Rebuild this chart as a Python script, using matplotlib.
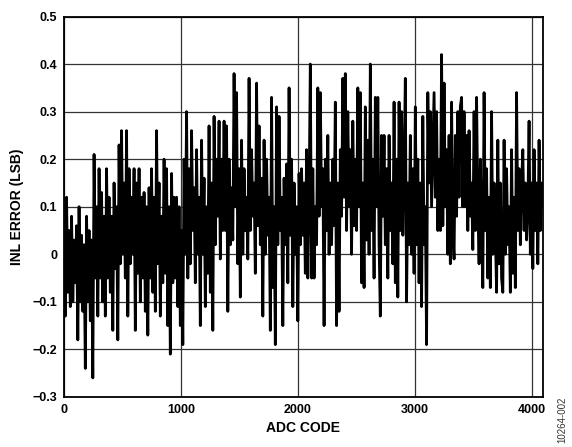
import numpy as np
from matplotlib import pyplot as plt

# INL error (LSB) in six chunks of ~700 codes each
seg1 = [0.00, -0.13, 0.12, -0.08, 0.05, -0.11, 0.08, -0.10, 0.03, -0.06, 0.06, -0.18, 0.10, -0.10, 0.04, -0.12,
        0.02, -0.24, 0.08, -0.10, 0.05, -0.14, 0.03, -0.26, 0.21, -0.05, 0.10, -0.13, 0.18, -0.05, 0.13, -0.10,
        0.08, -0.13, 0.18, -0.05, 0.12, -0.08, 0.08, -0.16, 0.15, -0.03, 0.10, -0.18, 0.23, -0.02, 0.26, 0.00,
        0.15, -0.05, 0.26, -0.13, 0.18, -0.02, 0.12, 0.00, 0.18, -0.16, 0.15, -0.04, 0.18, -0.10, 0.12, -0.05]
seg2 = [0.13, -0.12, 0.10, -0.17, 0.14, -0.05, 0.18, -0.08, 0.12, -0.12, 0.26, -0.02, 0.15, -0.13, 0.08, -0.06,
        0.20, -0.04, 0.18, -0.15, 0.10, -0.21, 0.17, -0.06, 0.12, -0.05, 0.12, -0.11, 0.10, -0.15, 0.05, -0.19,
        0.20, 0.00, 0.30, -0.05, 0.18, -0.02, 0.26, 0.05, 0.14, -0.06, 0.22, 0.00, 0.12, -0.15, 0.24, 0.00,
        0.16, -0.11, 0.10, -0.04, 0.27, -0.08, 0.15, -0.16, 0.29, 0.02, 0.20, 0.08, 0.28, -0.01, 0.20, 0.05]
seg3 = [0.28, 0.05, 0.27, -0.12, 0.20, 0.02, 0.14, 0.03, 0.38, 0.10, 0.34, -0.02, 0.18, -0.09, 0.24, 0.00,
        0.18, 0.05, 0.12, -0.01, 0.37, 0.05, 0.22, 0.08, 0.15, -0.04, 0.36, 0.06, 0.27, 0.02, 0.16, -0.13,
        0.24, 0.00, 0.20, 0.04, 0.12, -0.16, 0.33, -0.07, 0.10, -0.19, 0.31, 0.02, 0.29, 0.05, 0.12, -0.15,
        0.16, 0.02, 0.19, -0.06, 0.35, 0.04, 0.20, -0.11, 0.15, 0.00, 0.10, -0.14, 0.17, 0.02, 0.18, 0.04]
seg4 = [0.15, -0.04, 0.22, -0.05, 0.12, 0.40, -0.05, 0.18, -0.05, 0.10, 0.02, 0.35, 0.08, 0.34, 0.10, 0.18,
        -0.15, 0.20, 0.05, 0.25, 0.00, 0.15, 0.02, 0.20, 0.06, 0.32, -0.15, 0.15, -0.12, 0.22, 0.08, 0.37,
        0.12, 0.38, 0.05, 0.30, 0.10, 0.22, 0.00, 0.28, 0.06, 0.20, 0.05, 0.35, 0.10, 0.34, -0.06, 0.15,
        -0.07, 0.31, 0.03, 0.24, 0.00, 0.40, 0.05, 0.20, -0.05, 0.33, 0.10, 0.33, 0.02, -0.13, 0.25, 0.08]
seg5 = [0.25, 0.02, 0.18, -0.05, 0.25, 0.05, 0.15, -0.02, 0.32, -0.06, 0.20, -0.09, 0.32, 0.05, 0.30, 0.04,
        0.18, 0.37, -0.10, 0.15, 0.02, 0.25, 0.00, 0.18, -0.04, 0.31, 0.02, 0.20, -0.06, 0.15, -0.11, 0.29,
        0.02, 0.10, -0.19, 0.34, 0.15, 0.30, 0.10, 0.22, 0.34, 0.12, 0.30, 0.05, 0.20, 0.05, 0.42, 0.06,
        0.36, 0.10, 0.22, 0.00, 0.25, -0.02, 0.32, 0.05, -0.01, 0.25, 0.08, 0.30, 0.12, 0.31, 0.33, 0.10]
seg6 = [0.30, 0.10, 0.25, 0.05, 0.26, 0.08, 0.15, 0.01, 0.30, 0.05, 0.33, 0.10, -0.02, 0.20, 0.05, -0.07,
        0.34, 0.05, 0.18, -0.05, 0.12, -0.07, 0.30, 0.00, 0.15, 0.05, -0.08, 0.24, -0.02, 0.15, -0.05, -0.08,
        0.24, 0.00, 0.18, 0.02, 0.10, -0.08, 0.22, -0.04, 0.12, -0.07, 0.34, 0.05, 0.18, 0.02, 0.15, 0.22,
        0.05, 0.15, 0.03, 0.10, 0.28, 0.00, 0.15, -0.03, 0.22, 0.05, 0.15, -0.02, 0.24, 0.05, 0.15, 0.10]

inl = np.array(seg1 + seg2 + seg3 + seg4 + seg5 + seg6)
codes = np.linspace(0, 4095, len(inl))

xticks = [0, 1000, 2000, 3000, 4000]
yticks = [-0.3, -0.2, -0.1, 0, 0.1, 0.2, 0.3, 0.4, 0.5]
ylabels = ["\u22120.3", "\u22120.2", "\u22120.1", "0", "0.1", "0.2", "0.3", "0.4", "0.5"]

plt.rcParams['font.family'] = ['Liberation Sans', 'DejaVu Sans']

fig = plt.figure(figsize=(5.72, 4.47), dpi=100)
ax = fig.add_axes([0.112, 0.112, 0.837, 0.851])

ax.plot(codes, inl, color="black", lw=2.0, zorder=3)

ax.set_xlim(0, 4095)
ax.set_ylim(-0.3, 0.5)
ax.set_xticks(xticks)
ax.set_yticks(yticks)
ax.set_yticklabels(ylabels)
ax.tick_params(length=0, pad=5, labelsize=9)
for lab in ax.get_xticklabels() + ax.get_yticklabels():
    lab.set_fontweight("bold")
ax.grid(True, color="#333333", lw=0.9)
for sp in ax.spines.values():
    sp.set_linewidth(1.3)

ax.set_xlabel("ADC CODE", fontsize=10, fontweight="bold", labelpad=4)
ax.set_ylabel("INL ERROR (LSB)", fontsize=10, fontweight="bold", labelpad=6)

fig.text(0.992, 0.01, "10264-002", rotation=90, fontsize=7, ha="right", va="bottom", color="#333333")

fig.savefig("out.png", dpi=100)
